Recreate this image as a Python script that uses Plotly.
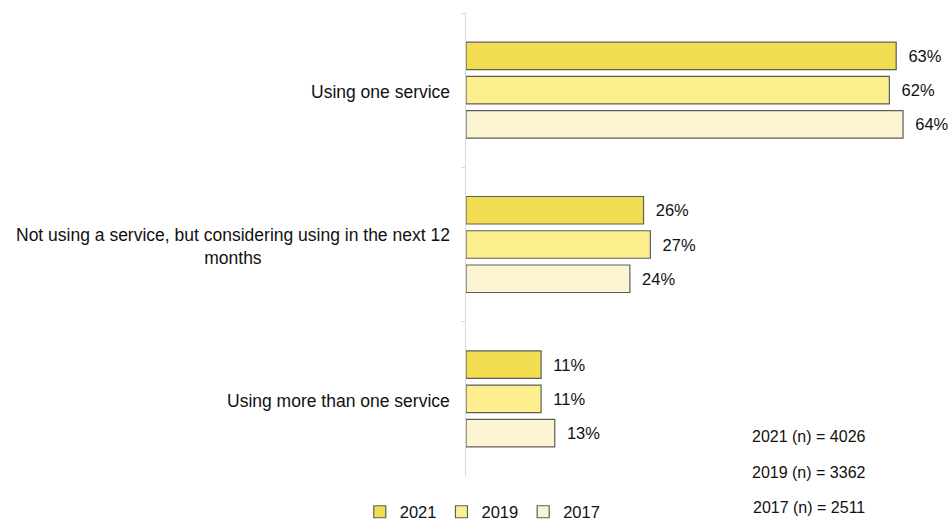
import plotly.graph_objects as go

# Survey answers, shares in percent by survey year
categories = [
    "Using one service",
    "Not using a service, but considering using in the next 12<br>months",
    "Using more than one service",
]
years = ["2021", "2019", "2017"]
values_2021 = [63, 26, 11]
values_2019 = [62, 27, 11]
values_2017 = [64, 24, 13]
sample_sizes = [4026, 3362, 2511]

series = [values_2021, values_2019, values_2017]
colors = ["#F2DC50", "#FDEF8E", "#FCF4D3"]

FONT = "Liberation Sans, Arial, sans-serif"

fig = go.Figure()
for year, vals, col in zip(years, series, colors):
    fig.add_trace(go.Bar(
        y=categories,
        x=vals,
        name=year,
        orientation="h",
        marker=dict(color=col, line=dict(color="#5E5E5E", width=1.2)),
        text=[f"\u00a0\u00a0{v}%" for v in vals],
        textposition="outside",
        textfont=dict(family=FONT, size=16.5, color="#111111"),
        constraintext="none",
        cliponaxis=False,
        hoverinfo="skip",
    ))

# Category labels: block right edge against the axis, lines centred
for cat in categories:
    fig.add_annotation(
        xref="paper", yref="y", x=0, y=cat,
        xanchor="right", yanchor="middle", xshift=-14.5, yshift=-2,
        text=cat, align="center", showarrow=False,
        font=dict(family=FONT, size=17.5, color="#111111"),
    )

# Sample size notes
for yr, n, ypos in zip(years, sample_sizes, [0.085, 0.007, -0.069]):
    fig.add_annotation(
        xref="paper", yref="paper", x=0.7186, y=ypos,
        xanchor="center", yanchor="middle",
        text=f"{yr} (n) = {n}", showarrow=False,
        font=dict(family=FONT, size=16, color="#111111"),
    )

fig.update_layout(
    width=951, height=520,
    margin=dict(l=466, r=7, t=13, b=44, autoexpand=False),
    paper_bgcolor="white", plot_bgcolor="white",
    barmode="group", bargap=0.334, bargroupgap=0.197,
    font=dict(family=FONT, size=16, color="#111111"),
    showlegend=True,
    legend=dict(
        orientation="h", x=0.035, y=-0.0778,
        xanchor="center", yanchor="middle",
        font=dict(family=FONT, size=16.5, color="#111111"),
        itemwidth=30, traceorder="normal",
    ),
    xaxis=dict(range=[0, 70], visible=False, showgrid=False, zeroline=False),
    yaxis=dict(
        autorange="reversed", showticklabels=False,
        showline=True, linecolor="#D9D9D9", linewidth=1.3,
        ticks="outside", ticklen=4, tickcolor="#D9D9D9",
        tickson="boundaries", showgrid=False,
    ),
)

fig.write_html("out.html")
